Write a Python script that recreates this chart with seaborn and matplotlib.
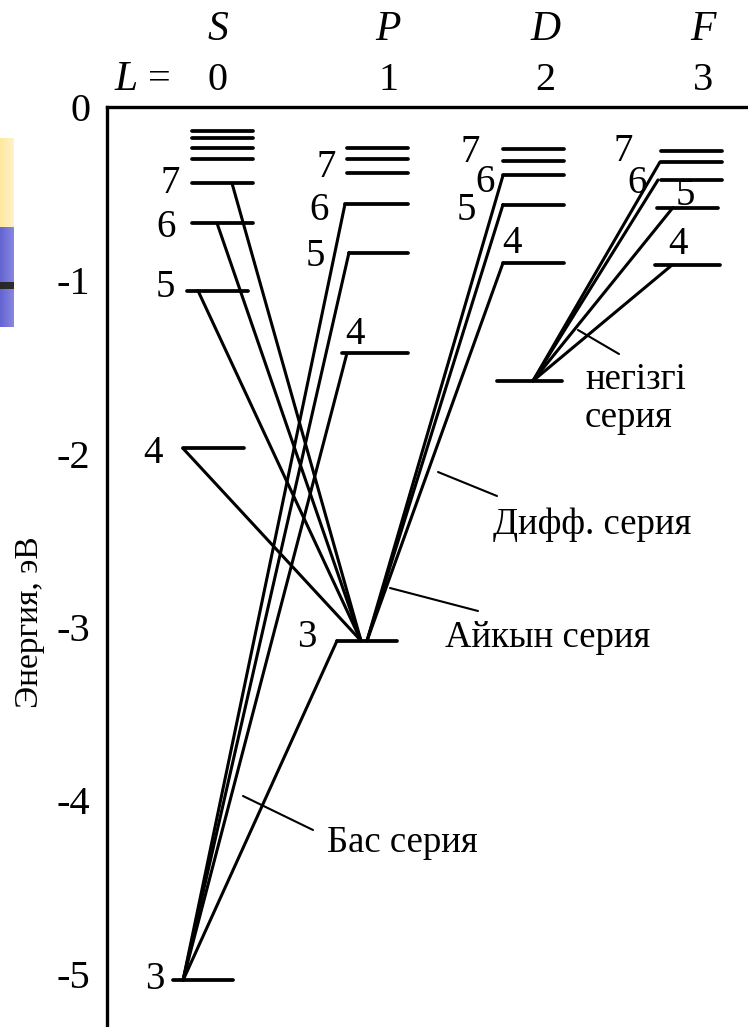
import numpy as np
import pandas as pd
import matplotlib
matplotlib.use("Agg")
import matplotlib.pyplot as plt
import seaborn as sns

# ---------------- data (energies in eV) ----------------
S_n = [3, 4, 5, 6, 7, 8, 9, 10, 11]
S_E = [-5.04, -1.97, -1.06, -0.67, -0.44, -0.30, -0.235, -0.18, -0.138]
P_n = [3, 4, 5, 6, 7, 8, 9]
P_E = [-3.08, -1.42, -0.84, -0.56, -0.383, -0.302, -0.238]
D_n = [3, 4, 5, 6, 7, 8]
D_E = [-1.58, -0.90, -0.563, -0.395, -0.312, -0.242]
F_n = [4, 5, 6, 7, 8]
F_E = [-0.912, -0.58, -0.421, -0.317, -0.254]

term_symbols = ["S", "P", "D", "F"]
L_values = ["0", "1", "2", "3"]
y_ticks = [0, -1, -2, -3, -4, -5]
y_tick_labels = ["0", "-1", "-2", "-3", "-4", "-5"]
y_label = "Энергия, эВ"

# transitions: (lower term, lower n) -> (upper term, list of upper n)
principal = ("S", 3, "P", [3, 4, 5, 6])
sharp = ("P", 3, "S", [4, 5, 6, 7])
diffuse = ("P", 3, "D", [4, 5, 6])
fundamental = ("D", 3, "F", [4, 5, 6, 7])
labeled = {"S": [3, 4, 5, 6, 7], "P": [3, 4, 5, 6, 7], "D": [4, 5, 6, 7], "F": [4, 5, 6, 7]}
series_names = ["Бас серия", "Айкын серия", "Дифф. серия", "негізгі\nсерия"]

levels = {"S": dict(zip(S_n, S_E)), "P": dict(zip(P_n, P_E)),
          "D": dict(zip(D_n, D_E)), "F": dict(zip(F_n, F_E))}

# ---------------- layout (pixel-based horizontal layout) ----------------
W, H = 748, 1027
TOP_PX, BOT_PX, AX_LEFT_PX = 107, 1025, 107
PX_PER_EV = 173.3


def e_of(px):
    return -(px - TOP_PX) / PX_PER_EV


col_ext = {"S": (192, 253), "P": (347, 408), "D": (503, 564), "F": (661, 722)}
ext_override = {("S", 3): (173, 233), ("S", 4): (183, 244), ("S", 5): (187, 248),
                ("P", 3): (337, 397), ("P", 4): (342, 408), ("P", 5): (349, 408),
                ("P", 6): (345, 408), ("D", 3): (497, 562),
                ("F", 4): (655, 720), ("F", 5): (657, 718)}
col_center = {"S": 218, "P": 388, "D": 545, "F": 703}
# attachment points of transition lines on levels
low_anchor = {"principal": 183, "sharp": 361, "diffuse": 367, "fundamental": 533}
up_anchor = {("S", 4): 183, ("S", 5): 198, ("S", 6): 217, ("S", 7): 232,
             ("P", 3): 337, ("P", 4): 347, ("P", 5): 349, ("P", 6): 345,
             ("D", 4): 503, ("D", 5): 503, ("D", 6): 503,
             ("F", 4): 672, ("F", 5): 673, ("F", 6): 658, ("F", 7): 660}
label_off = {("S", 3): (-18, 1), ("S", 4): (-30, -5), ("S", 5): (-22, 3),
             ("S", 6): (-26, -4), ("S", 7): (-22, 0),
             ("P", 3): (-30, 3), ("P", 4): (13, 19), ("P", 5): (-34, -4),
             ("P", 6): (-26, -6), ("P", 7): (-21, 6),
             ("D", 4): (9, 19), ("D", 5): (-37, -6), ("D", 6): (-18, -7), ("D", 7): (-33, 9),
             ("F", 4): (23, 21), ("F", 5): (28, 12), ("F", 6): (-24, -4), ("F", 7): (-38, 10)}

# ---------------- build segment tables ----------------
lev_rows = []
for t, d in levels.items():
    for n, e in d.items():
        x0, x1 = ext_override.get((t, n), col_ext[t])
        uid = f"{t}{n}"
        lev_rows += [dict(x=x0, E=e, seg=uid), dict(x=x1, E=e, seg=uid)]
lev_df = pd.DataFrame(lev_rows)

tr_rows = []
for name, (lt, ln, ut, uns) in zip(["principal", "sharp", "diffuse", "fundamental"],
                                   [principal, sharp, diffuse, fundamental]):
    for un in uns:
        uid = f"{name}-{un}"
        tr_rows += [dict(x=low_anchor[name], E=levels[lt][ln], seg=uid),
                    dict(x=up_anchor[(ut, un)], E=levels[ut][un], seg=uid)]
tr_df = pd.DataFrame(tr_rows)

# ---------------- figure ----------------
sns.set_theme(style="white")
plt.rcParams["font.family"] = ["Liberation Serif", "DejaVu Serif"]
plt.rcParams["text.color"] = "black"
plt.rcParams["axes.labelcolor"] = "black"
plt.rcParams["ytick.color"] = "black"
plt.rcParams["xtick.color"] = "black"

fig = plt.figure(figsize=(W / 100, H / 100), dpi=100)
ax = fig.add_axes([AX_LEFT_PX / W, 1 - BOT_PX / H, 1 - AX_LEFT_PX / W, (BOT_PX - TOP_PX) / H])
ax.set_xlim(AX_LEFT_PX, W)
ax.set_ylim(e_of(BOT_PX), 0)

sns.lineplot(data=lev_df, x="x", y="E", units="seg", estimator=None, sort=False,
             color="black", lw=2.7, ax=ax, legend=False)
sns.lineplot(data=tr_df, x="x", y="E", units="seg", estimator=None, sort=False,
             color="black", lw=2.2, ax=ax, legend=False)

for sp in ["right", "bottom"]:
    ax.spines[sp].set_visible(False)
for sp in ["left", "top"]:
    ax.spines[sp].set_linewidth(2.4)
    ax.spines[sp].set_color("black")
ax.set_xticks([])
ax.set_yticks(y_ticks)
ax.set_yticklabels(y_tick_labels, fontsize=29)
ax.tick_params(axis="y", direction="in", length=10, width=2.2, pad=12, colors="black",
               labelcolor="black")
ax.set_xlabel("")
ax.set_ylabel("")

# level labels
for t, ns in labeled.items():
    for n in ns:
        x0 = ext_override.get((t, n), col_ext[t])[0]
        ax.annotate(str(n), xy=(x0, levels[t][n]), xytext=label_off[(t, n)],
                    textcoords="offset pixels", ha="center", va="center", fontsize=28,
                    color="black")

# header
for sym, lv in zip(term_symbols, L_values):
    ax.text(col_center[sym], e_of(30), sym, fontsize=30, fontstyle="italic",
            ha="center", va="center", clip_on=False, color="black")
    ax.text(col_center[sym], e_of(80), lv, fontsize=29, ha="center", va="center",
            clip_on=False, color="black")
ax.text(126, e_of(80), "L", fontsize=30, fontstyle="italic", ha="center", va="center",
        clip_on=False, color="black")
ax.text(159, e_of(80), "=", fontsize=29, ha="center", va="center", clip_on=False, color="black")

# series annotations (pointer lines + text)
pointers = [((243, 796), (313, 830)), ((390, 588), (478, 611)),
            ((438, 472), (497, 496)), ((578, 330), (619, 354))]
text_pos = [(327, 843), (445, 638), (493, 525), (585, 399)]
for (p0, p1), (tx, ty), name in zip(pointers, text_pos, series_names):
    ax.plot([p0[0], p1[0]], [e_of(p0[1]), e_of(p1[1])], color="black", lw=1.5)
    ax.text(tx, e_of(ty), name, fontsize=26.5, ha="left", va="center", linespacing=1.12,
            color="black")

fig.text(30 / W, 1 - 622 / H, y_label, rotation=90, fontsize=24, ha="center", va="center",
         color="black")

# slide decoration strip at left edge
strip = fig.add_axes([0, 1 - 327 / H, 14 / W, (327 - 138) / H])
rows = 327 - 138
img = np.ones((rows, 14, 3))
grad = np.linspace(0, 1, 14)
for r in range(rows):
    ypx = 138 + r
    if ypx < 227:
        c0, c1 = np.array([255, 232, 160]), np.array([255, 242, 200])
    elif 282 <= ypx < 289:
        c0, c1 = np.array([40, 40, 40]), np.array([45, 45, 45])
    else:
        c0, c1 = np.array([100, 100, 210]), np.array([135, 135, 225])
    img[r] = (c0[None, :] * (1 - grad[:, None]) + c1[None, :] * grad[:, None]) / 255
strip.imshow(img, aspect="auto", interpolation="nearest")
strip.axis("off")

fig.savefig("out.png", dpi=100)
